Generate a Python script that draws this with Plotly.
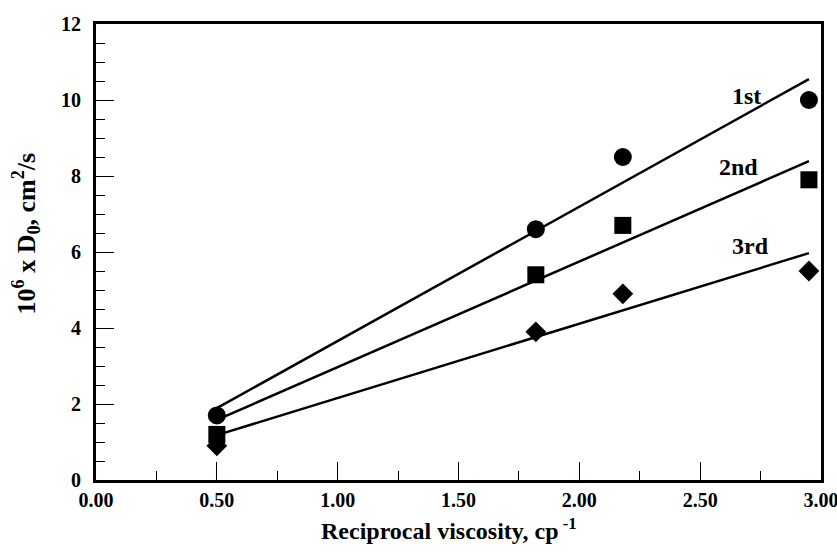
import plotly.graph_objects as go

# Data
recip_visc = [0.5, 1.82, 2.18, 2.95]
d0_1st = [1.7, 6.6, 8.5, 10.0]
d0_2nd = [1.2, 5.4, 6.7, 7.9]
d0_3rd = [0.9, 3.9, 4.9, 5.5]

fit_x = [0.5, 2.95]
fit_1st = [1.89, 10.55]
fit_2nd = [1.58, 8.39]
fit_3rd = [1.18, 5.97]

labels = ["1st", "2nd", "3rd"]
label_x = [2.69, 2.66, 2.71]
label_y = [10.1, 8.25, 6.15]

x_ticks = [0, 0.5, 1.0, 1.5, 2.0, 2.5, 3.0]
x_ticktext = ["0.00", "0.50", "1.00", "1.50", "2.00", "2.50", "3.00"]
y_ticks = [0, 2, 4, 6, 8, 10, 12]

FONT = "Liberation Serif"

fig = go.Figure()
for fy in (fit_1st, fit_2nd, fit_3rd):
    fig.add_trace(go.Scatter(x=fit_x, y=fy, mode="lines",
                             line=dict(color="black", width=2.5),
                             showlegend=False, hoverinfo="skip"))

for ys, sym, sz in ((d0_1st, "circle", 18), (d0_2nd, "square", 17), (d0_3rd, "diamond", 16)):
    fig.add_trace(go.Scatter(x=recip_visc, y=ys, mode="markers",
                             marker=dict(symbol=sym, size=sz, color="black"),
                             showlegend=False))

for t, lx, ly in zip(labels, label_x, label_y):
    fig.add_annotation(x=lx, y=ly, text="<b>%s</b>" % t, showarrow=False,
                       font=dict(family=FONT, size=24, color="black"))

# axis titles placed as annotations
fig.add_annotation(xref="paper", yref="paper", x=-0.097, y=0.54,
                   text="<b>10<sup>6</sup> x D<sub>0</sub>, cm<sup>2</sup>/s</b>",
                   textangle=-90, showarrow=False, xanchor="center", yanchor="middle",
                   font=dict(family=FONT, size=26, color="black"))
fig.add_annotation(xref="paper", yref="paper", x=0.487, y=-0.071,
                   text="<b>Reciprocal viscosity, cp<sup> -1</sup></b>",
                   showarrow=False, xanchor="center", yanchor="top",
                   font=dict(family=FONT, size=24, color="black"))

fig.update_layout(
    width=837, height=554,
    margin=dict(l=96, r=16, t=24, b=74, autoexpand=False),
    plot_bgcolor="white", paper_bgcolor="white",
    font=dict(family=FONT, color="black"),
)
fig.update_xaxes(
    range=[0, 3], tickvals=x_ticks, ticktext=["<b>%s</b>" % t for t in x_ticktext],
    ticks="inside", ticklen=18, tickwidth=1, tickcolor="black",
    minor=dict(dtick=0.25, ticks="inside", ticklen=9, tickwidth=1, tickcolor="black"),
    showline=True, linecolor="black", linewidth=3, mirror=True,
    showgrid=False, zeroline=False, ticklabeloverflow="allow", automargin=False,
    tickfont=dict(family=FONT, size=20),
)
fig.update_yaxes(
    range=[0, 12], tickvals=y_ticks, ticktext=["<b>%d</b>" % v for v in y_ticks],
    ticks="inside", ticklen=18, tickwidth=1, tickcolor="black",
    minor=dict(dtick=0.5, ticks="inside", ticklen=9, tickwidth=1, tickcolor="black"),
    showline=True, linecolor="black", linewidth=3, mirror=True,
    showgrid=False, zeroline=False, ticklabeloverflow="allow", automargin=False,
    tickfont=dict(family=FONT, size=20), ticklabelstandoff=8,
)

fig.write_html("out.html", config={"displayModeBar": False},
               post_script="document.body.style.margin='0';")
